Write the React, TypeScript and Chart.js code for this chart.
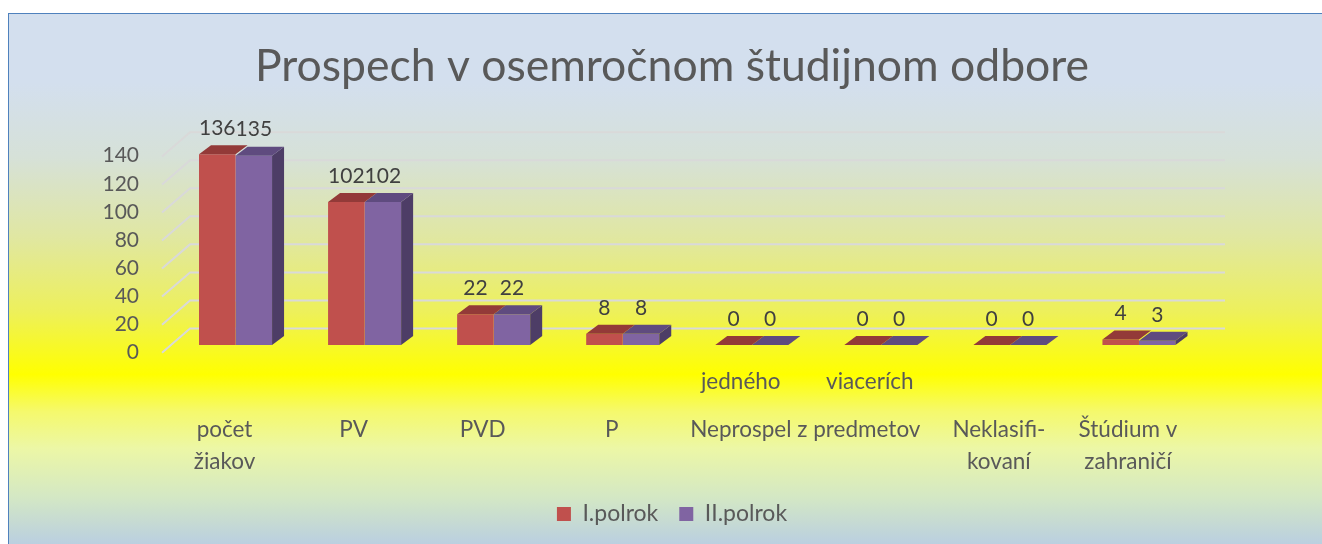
import React, { useEffect, useRef } from 'react';
import { Chart, registerables } from 'chart.js';

Chart.register(...registerables);

// ---- data ----
const innerLabels = ['', '', '', '', 'jedného', 'viacerích', '', ''];
const outerPositions = [0, 1, 2, 3, 4.5, 6, 7];
const outerLabels = [
  ['počet', 'žiakov'],
  ['PV'],
  ['PVD'],
  ['P'],
  ['Neprospel z predmetov'],
  ['Neklasifi-', 'kovaní'],
  ['Štúdium v', 'zahraničí'],
];
const firstHalf = [136, 102, 22, 8, 0, 0, 0, 4];
const secondHalf = [135, 102, 22, 8, 0, 0, 0, 3];
const seriesNames = ['I.polrok', 'II.polrok'];
const yTickValues = [0, 20, 40, 60, 80, 100, 120, 140];
const chartTitle = 'Prospech v osemročnom študijnom odbore';

// ---- styles ----
const FONT = 'Lato';
const TEXT = '#595959';
const frontColors = ['#c0504d', '#8064a2'];
const faceColors = [
  { top: '#933a38', side: '#7a2f2d' },
  { top: '#5f4b7f', side: '#4d3d66' },
];
const DX = 12;
const DY = 9;

const threeD = {
  id: 'threeD',
  beforeDatasetsDraw(chart: any) {
    const { ctx, chartArea, scales } = chart;
    const y = scales.y;
    ctx.save();
    ctx.strokeStyle = '#d9d9d9';
    ctx.lineWidth = 2;
    for (const v of yTickValues) {
      const yf = y.getPixelForValue(v);
      const yb = yf - 16.5;
      ctx.beginPath();
      ctx.moveTo(chartArea.left - 9, yf + 7.7);
      ctx.lineTo(chartArea.left + 19, yb);
      ctx.lineTo(chartArea.right + 21.5, yb);
      ctx.stroke();
    }
    ctx.restore();
  },
  afterDatasetsDraw(chart: any) {
    const { ctx } = chart;
    const n = chart.data.datasets.length;
    ctx.save();
    for (let di = n - 1; di >= 0; di--) {
      const meta = chart.getDatasetMeta(di);
      const c = faceColors[di];
      meta.data.forEach((bar: any) => {
        const { x, y, base, width } = bar.getProps(['x', 'y', 'base', 'width'], true);
        const x0 = x - width / 2;
        const x1 = x + width / 2;
        if (di === n - 1) {
          ctx.fillStyle = c.side;
          ctx.beginPath();
          ctx.moveTo(x1, y);
          ctx.lineTo(x1 + DX, y - DY);
          ctx.lineTo(x1 + DX, base - DY);
          ctx.lineTo(x1, base);
          ctx.closePath();
          ctx.fill();
        }
        ctx.fillStyle = c.top;
        ctx.beginPath();
        ctx.moveTo(x0, y);
        ctx.lineTo(x1, y);
        ctx.lineTo(x1 + DX, y - DY);
        ctx.lineTo(x0 + DX, y - DY);
        ctx.closePath();
        ctx.fill();
      });
    }
    ctx.font = `21px ${FONT}`;
    ctx.fillStyle = '#404040';
    ctx.textAlign = 'center';
    ctx.textBaseline = 'middle';
    chart.data.datasets.forEach((ds: any, di: number) => {
      const meta = chart.getDatasetMeta(di);
      meta.data.forEach((bar: any, i: number) => {
        const { x, y } = bar.getProps(['x', 'y'], true);
        ctx.fillText(String(ds.data[i]), x, y - 26);
      });
    });
    ctx.restore();
  },
};

export default function App() {
  const ref = useRef<HTMLCanvasElement | null>(null);

  useEffect(() => {
    if (!ref.current) return;
    const chart = new Chart(ref.current, {
      type: 'bar',
      data: {
        labels: innerLabels,
        datasets: [
          {
            label: seriesNames[0],
            data: firstHalf,
            backgroundColor: frontColors[0],
            borderWidth: 0,
            barPercentage: 1,
            categoryPercentage: 0.566,
            xAxisID: 'x',
            yAxisID: 'y',
          },
          {
            label: seriesNames[1],
            data: secondHalf,
            backgroundColor: frontColors[1],
            borderWidth: 0,
            barPercentage: 1,
            categoryPercentage: 0.566,
            xAxisID: 'x',
            yAxisID: 'y',
          },
        ],
      },
      options: {
        responsive: false,
        maintainAspectRatio: false,
        animation: false,
        layout: { padding: { top: 0, left: 0, right: 0, bottom: 8.5 } },
        scales: {
          x: {
            type: 'category',
            position: 'bottom',
            weight: 0,
            offset: true,
            grid: { display: false, drawTicks: false },
            border: { display: false },
            ticks: {
              autoSkip: false,
              maxRotation: 0,
              minRotation: 0,
              padding: 23.5,
              labelOffset: -11,
              color: TEXT,
              font: { family: FONT, size: 22.5 },
            },
            afterFit: (s: any) => {
              s.height = 60;
            },
          },
          x2: {
            type: 'linear',
            position: 'bottom',
            weight: 1,
            min: -0.5,
            max: 7.5,
            bounds: 'data',
            offset: false,
            grid: { display: false, drawTicks: false },
            border: { display: false },
            afterBuildTicks: (s: any) => {
              s.ticks = outerPositions.map((v) => ({ value: v }));
            },
            ticks: {
              autoSkip: false,
              maxRotation: 0,
              minRotation: 0,
              padding: 9,
              labelOffset: -11,
              color: TEXT,
              font: { family: FONT, size: 22.5, lineHeight: '32px' },
              callback: (_v: any, i: number) => outerLabels[i],
            },
            afterFit: (s: any) => {
              s.height = 76.5;
            },
          },
          y: {
            type: 'linear',
            position: 'left',
            min: 0,
            max: 140,
            grid: { display: false, drawTicks: false },
            border: { display: false },
            afterBuildTicks: (s: any) => {
              s.ticks = yTickValues.map((v) => ({ value: v }));
            },
            ticks: {
              autoSkip: false,
              padding: 32,
              labelOffset: 7,
              color: TEXT,
              font: { family: FONT, size: 21 },
            },
            afterFit: (s: any) => {
              s.width = 162;
            },
          },
          yR: {
            type: 'linear',
            position: 'right',
            display: true,
            grid: { display: false, drawTicks: false },
            border: { display: false },
            ticks: { display: false },
            afterFit: (s: any) => {
              s.width = 131.5;
            },
          },
        },
        plugins: {
          title: {
            display: true,
            text: chartTitle,
            color: TEXT,
            font: { family: FONT, size: 44.5, weight: 'normal' },
            padding: { top: 25.5, bottom: 55.8 },
          },
          legend: {
            display: true,
            position: 'bottom',
            labels: {
              boxWidth: 14,
              boxHeight: 14,
              padding: 21,
              color: TEXT,
              font: { family: FONT, size: 23 },
            },
          },
          tooltip: { enabled: false },
        },
      },
      plugins: [threeD],
    } as any);
    return () => chart.destroy();
  }, []);

  return (
    <div
      style={{
        position: 'fixed',
        left: 8,
        top: 13,
        width: 1314,
        height: 531,
        boxSizing: 'border-box',
        borderTop: '1px solid #4f81bd',
        borderLeft: '1px solid #4f81bd',
        overflow: 'hidden',
        background:
          'linear-gradient(to bottom, #d3dfee 0%, #d3dfee 13%, #d6e1d8 27%, #e0e7a2 42%, #edf05c 56%, #ffff00 68%, #f5f96c 75%, #ecf7a6 82%, #d4e8c4 91%, #bacfe0 100%)',
      }}
    >
      <canvas ref={ref} width={1326} height={530} style={{ display: 'block' }} />
    </div>
  );
}
